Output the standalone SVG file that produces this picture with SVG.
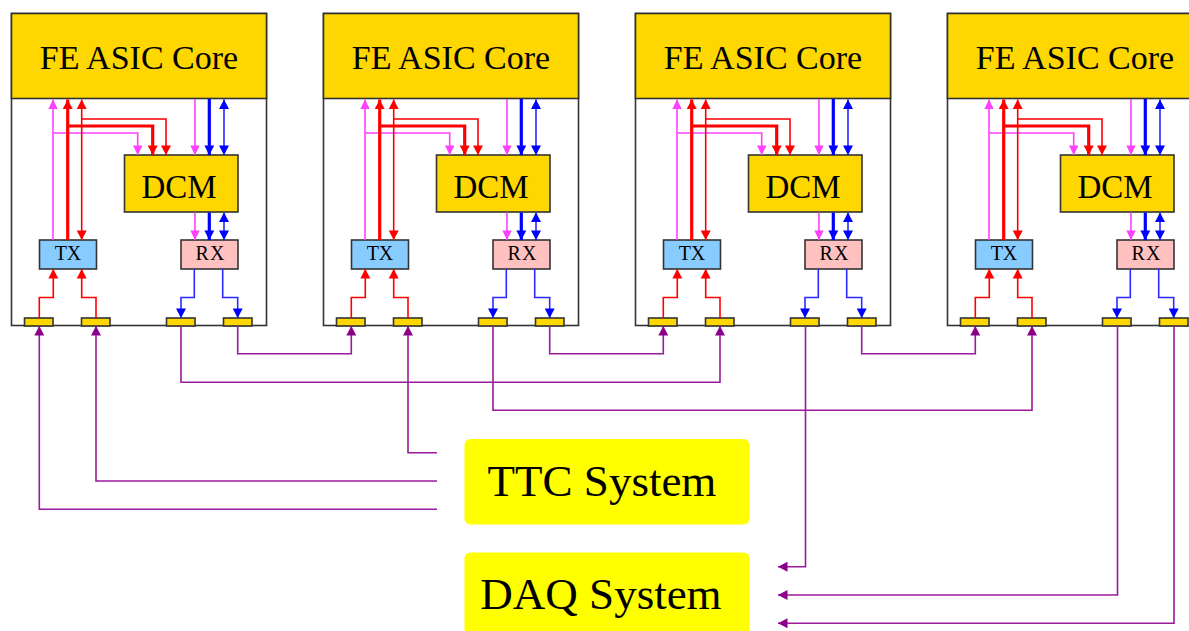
<svg xmlns="http://www.w3.org/2000/svg" xmlns:xlink="http://www.w3.org/1999/xlink" width="1189" height="631" viewBox="0 0 1189 631">
<style>
  .frame { fill: #ffffff; stroke: #333333; stroke-width: 1.6; }
  .core { fill: #ffd700; stroke: #333333; stroke-width: 1.6; }
  .dcm { fill: #ffd700; stroke: #333333; stroke-width: 1.6; }
  .tx { fill: #88ccff; stroke: #333333; stroke-width: 1.6; }
  .rx { fill: #ffc0c0; stroke: #333333; stroke-width: 1.6; }
  .pad { fill: #ffd700; stroke: #333333; stroke-width: 1.6; }
  .sys { fill: #ffff00; stroke: none; }
  text { font-family: "Liberation Serif", "Times New Roman", serif; fill: #000000; text-anchor: middle; }
  .t-core { font-size: 34px; }
  .t-dcm { font-size: 33px; }
  .t-small { font-size: 20px; }
  .t-sys { font-size: 45px; }
  .w { fill: none; stroke-linejoin: miter; }
  .mg { stroke: #ff40ff; stroke-width: 1.6; marker-end: url(#aM); }
  .rd { stroke: #ff0000; stroke-width: 1.6; marker-end: url(#aR); }
  .rdk { stroke: #ff0000; stroke-width: 3.2; marker-end: url(#aR); }
  .bl { stroke: #2a2aff; stroke-width: 1.6; marker-end: url(#aB); }
  .blk { stroke: #0000ff; stroke-width: 3.2; marker-end: url(#aB); }
  .rd2 { marker-start: url(#aR); }
  .bl2 { marker-start: url(#aB); }
  .pu { stroke: #9a1a9a; stroke-width: 1.6; marker-end: url(#aP); }
</style>
<defs>
  <marker id="aM" markerUnits="userSpaceOnUse" markerWidth="11" markerHeight="11" viewBox="0 0 11 11" refX="10" refY="5.5" orient="auto-start-reverse"><path d="M0.5,0.8 L10,5.5 L0.5,10.2 z" fill="#ff40ff"/></marker>
  <marker id="aR" markerUnits="userSpaceOnUse" markerWidth="11" markerHeight="11" viewBox="0 0 11 11" refX="10" refY="5.5" orient="auto-start-reverse"><path d="M0.5,0.5 L10,5.5 L0.5,10.5 z" fill="#ff0000"/></marker>
  <marker id="aB" markerUnits="userSpaceOnUse" markerWidth="11" markerHeight="11" viewBox="0 0 11 11" refX="10" refY="5.5" orient="auto-start-reverse"><path d="M0.5,0.5 L10,5.5 L0.5,10.5 z" fill="#0000ff"/></marker>
  <marker id="aP" markerUnits="userSpaceOnUse" markerWidth="11" markerHeight="11" viewBox="0 0 11 11" refX="10" refY="5.5" orient="auto-start-reverse"><path d="M0.5,0.5 L10,5.5 L0.5,10.5 z" fill="#8b008b"/></marker>
</defs>
<rect x="0" y="0" width="1189" height="631" fill="#ffffff"/>

<!-- Block 1 -->
<g id="block1" transform="translate(0,0)">
  <rect class="frame" x="11.5" y="13.5" width="255" height="312"/>
  <g id="core1"><rect class="core" x="11.5" y="13.5" width="255" height="85"/><text class="t-core" x="139" y="68.5">FE ASIC Core</text></g>
  <g id="dcm1"><rect class="dcm" x="124.5" y="155" width="113.5" height="57"/><text class="t-dcm" x="179" y="197.5">DCM</text></g>
  <g id="tx1"><rect class="tx" x="39.5" y="240" width="57" height="29"/><text class="t-small" x="68" y="260">TX</text></g>
  <g id="rx1"><rect class="rx" x="181" y="240" width="57" height="29"/><text class="t-small" x="210.5" y="260" letter-spacing="1">RX</text></g>
  <g id="pads1">
    <rect class="pad" x="24.5" y="318" width="28.5" height="8"/>
    <rect class="pad" x="81.5" y="318" width="28.5" height="8"/>
    <rect class="pad" x="166.5" y="318" width="28.5" height="8"/>
    <rect class="pad" x="223.5" y="318" width="28.5" height="8"/>
  </g>
</g>
<!-- Block 2 -->
<g id="block2" transform="translate(312,0)">
  <rect class="frame" x="11.5" y="13.5" width="255" height="312"/>
  <g id="core2"><rect class="core" x="11.5" y="13.5" width="255" height="85"/><text class="t-core" x="139" y="68.5">FE ASIC Core</text></g>
  <g id="dcm2"><rect class="dcm" x="124.5" y="155" width="113.5" height="57"/><text class="t-dcm" x="179" y="197.5">DCM</text></g>
  <g id="tx2"><rect class="tx" x="39.5" y="240" width="57" height="29"/><text class="t-small" x="68" y="260">TX</text></g>
  <g id="rx2"><rect class="rx" x="181" y="240" width="57" height="29"/><text class="t-small" x="210.5" y="260" letter-spacing="1">RX</text></g>
  <g id="pads2">
    <rect class="pad" x="24.5" y="318" width="28.5" height="8"/>
    <rect class="pad" x="81.5" y="318" width="28.5" height="8"/>
    <rect class="pad" x="166.5" y="318" width="28.5" height="8"/>
    <rect class="pad" x="223.5" y="318" width="28.5" height="8"/>
  </g>
</g>
<!-- Block 3 -->
<g id="block3" transform="translate(624,0)">
  <rect class="frame" x="11.5" y="13.5" width="255" height="312"/>
  <g id="core3"><rect class="core" x="11.5" y="13.5" width="255" height="85"/><text class="t-core" x="139" y="68.5">FE ASIC Core</text></g>
  <g id="dcm3"><rect class="dcm" x="124.5" y="155" width="113.5" height="57"/><text class="t-dcm" x="179" y="197.5">DCM</text></g>
  <g id="tx3"><rect class="tx" x="39.5" y="240" width="57" height="29"/><text class="t-small" x="68" y="260">TX</text></g>
  <g id="rx3"><rect class="rx" x="181" y="240" width="57" height="29"/><text class="t-small" x="210.5" y="260" letter-spacing="1">RX</text></g>
  <g id="pads3">
    <rect class="pad" x="24.5" y="318" width="28.5" height="8"/>
    <rect class="pad" x="81.5" y="318" width="28.5" height="8"/>
    <rect class="pad" x="166.5" y="318" width="28.5" height="8"/>
    <rect class="pad" x="223.5" y="318" width="28.5" height="8"/>
  </g>
</g>
<!-- Block 4 -->
<g id="block4" transform="translate(936,0)">
  <rect class="frame" x="11.5" y="13.5" width="255" height="312"/>
  <g id="core4"><rect class="core" x="11.5" y="13.5" width="255" height="85"/><text class="t-core" x="139" y="68.5">FE ASIC Core</text></g>
  <g id="dcm4"><rect class="dcm" x="124.5" y="155" width="113.5" height="57"/><text class="t-dcm" x="179" y="197.5">DCM</text></g>
  <g id="tx4"><rect class="tx" x="39.5" y="240" width="57" height="29"/><text class="t-small" x="68" y="260">TX</text></g>
  <g id="rx4"><rect class="rx" x="181" y="240" width="57" height="29"/><text class="t-small" x="210.5" y="260" letter-spacing="1">RX</text></g>
  <g id="pads4">
    <rect class="pad" x="24.5" y="318" width="28.5" height="8"/>
    <rect class="pad" x="81.5" y="318" width="28.5" height="8"/>
    <rect class="pad" x="166.5" y="318" width="28.5" height="8"/>
    <rect class="pad" x="223.5" y="318" width="28.5" height="8"/>
  </g>
</g>

<g id="ttc"><rect class="sys" x="464.5" y="439" width="285" height="85.5" rx="6"/><text class="t-sys" x="602" y="496">TTC System</text></g>
<g id="daq"><rect class="sys" x="464.5" y="552.5" width="285" height="100" rx="6"/><text class="t-sys" x="601" y="608.5">DAQ System</text></g>

<g id="connectors" class="w">
  <defs>
    <g id="inner">
      <path class="w mg" d="M53,240 V99.5"/>
      <path class="w mg" d="M53,133 H137.7 V155"/>
      <path class="w rdk" d="M67.7,240 V99.5"/>
      <path class="w rdk" d="M67.7,126 H152.7 V155"/>
      <path class="w rd rd2" d="M81.7,99.5 V240"/>
      <path class="w rd" d="M81.7,119 H166 V155"/>
      <path class="w mg" d="M195,99 V155"/>
      <path class="w blk" d="M209.3,99 V155"/>
      <path class="w bl bl2" d="M224,99.5 V155"/>
      <path class="w mg" d="M195,212.5 V240"/>
      <path class="w blk" d="M209.3,212.5 V240"/>
      <path class="w bl bl2" d="M224,212.5 V240"/>
      <path class="w rd" d="M39.3,318 V297.5 H53.3 V269"/>
      <path class="w rd" d="M96,318 V297.5 H81.7 V269"/>
      <path class="w bl" d="M194.3,269 V297.5 H181 V318"/>
      <path class="w bl" d="M222.7,269 V297.5 H237.7 V318"/>
    </g>
  </defs>
  <use xlink:href="#inner" href="#inner" x="0" y="0"/>
  <use xlink:href="#inner" href="#inner" x="312" y="0"/>
  <use xlink:href="#inner" href="#inner" x="624" y="0"/>
  <use xlink:href="#inner" href="#inner" x="936" y="0"/>

  <path class="w pu" d="M237.7,326 V353.7 H351.3 V326"/>
  <path class="w pu" d="M549.7,326 V353.7 H663.3 V326"/>
  <path class="w pu" d="M861.7,326 V353.7 H975.3 V326"/>
  <path class="w pu" d="M181,326 V382.3 H720 V326"/>
  <path class="w pu" d="M493,326 V410.3 H1032 V326"/>
  <path class="w pu" d="M437,452.7 H408 V326"/>
  <path class="w pu" d="M437,481 H96 V326"/>
  <path class="w pu" d="M437,509.3 H39.3 V326"/>
  <path class="w pu" d="M805.5,326 V566.7 H778"/>
  <path class="w pu" d="M1117.5,326 V595 H778"/>
  <path class="w pu" d="M1174,326 V623.3 H778"/>
</g>
</svg>
